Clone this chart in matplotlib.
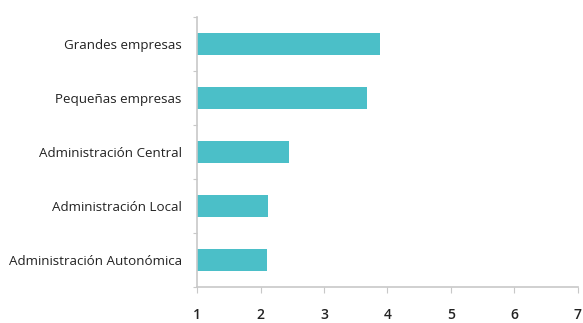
import numpy as np
import matplotlib.pyplot as plt

categorias = ['Grandes empresas', 'Pequeñas empresas', 'Administración Central',
              'Administración Local', 'Administración Autonómica']
valores = [3.88, 3.68, 2.45, 2.12, 2.10]
xticks = [1, 2, 3, 4, 5, 6, 7]

plt.rcParams['font.family'] = ['Open Sans', 'DejaVu Sans']

fig = plt.figure(figsize=(5.83, 3.23), dpi=100)
ax = fig.add_axes([0.338, 0.111, 0.653, 0.836])

y = np.arange(len(categorias))[::-1] + 0.5
ax.barh(y, np.array(valores) - 1, left=1, height=0.41, color='#4bbfc8')

ax.set_xlim(1, 7)
ax.set_ylim(0, len(categorias))
ax.set_xticks(xticks)
ax.set_xticklabels([str(t) for t in xticks], fontsize=10, color='#222222', fontweight='semibold')
ax.set_yticks(np.arange(len(categorias) + 1))
ax.set_yticklabels([])
ax.set_yticks(y, minor=True)
ax.set_yticklabels(categorias, minor=True, fontsize=9.6, color='#222222')
ax.tick_params(axis='y', which='minor', length=0, pad=11)
ax.tick_params(axis='y', which='major', length=3, direction='out', color='#c8c8c8')
ax.tick_params(axis='x', length=4, direction='out', color='#c8c8c8', pad=11)

for s in ['top', 'right']:
    ax.spines[s].set_visible(False)
for s in ['left', 'bottom']:
    ax.spines[s].set_color('#c8c8c8')
    ax.spines[s].set_linewidth(1.2)

fig.savefig('out.png', dpi=100)
